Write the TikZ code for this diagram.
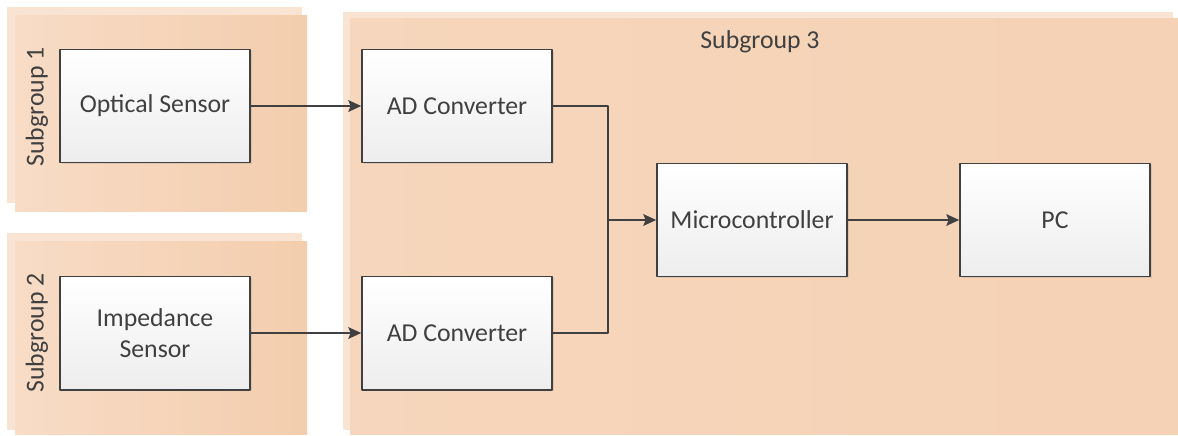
\documentclass[tikz,border=0pt]{standalone}
\usepackage{fontspec}
\setmainfont{Carlito}
\usetikzlibrary{arrows.meta,shadows}
\definecolor{panelback}{HTML}{F9E3D2}
\definecolor{panelleft}{HTML}{F8DCC6}
\definecolor{panelright}{HTML}{F3CDAD}
\definecolor{linegray}{HTML}{404040}

\tikzset{
  block/.style={draw=linegray, line width=1.4pt, top color=white, bottom color=black!7,
    minimum width=5.7cm, minimum height=3.4cm, text=linegray, align=center,
    font=\fontsize{22}{27}\selectfont,
    drop shadow={shadow xshift=1.5pt, shadow yshift=-1.5pt, opacity=0.2}},
  grouplabel/.style={text=linegray, font=\fontsize{22}{27}\selectfont},
  wire/.style={draw=linegray, line width=1.4pt},
  link/.style={wire, -{Stealth[length=11pt,width=10pt,inset=2pt]}},
}

\begin{document}
\begin{tikzpicture}[line cap=round,line join=round,x=0.03cm,y=-0.03cm]
	\useasboundingbox (0,0) rectangle (1178,435);
	% subgroup panels
	\fill[panelback] (7,7) rectangle (302,203);
	\fill[left color=panelleft, right color=panelright] (15,15) rectangle (307,211);
	\fill[panelback] (7,233) rectangle (302,430);
	\fill[left color=panelleft, right color=panelright] (15,241) rectangle (307,434);
	\fill[panelback] (343,12) rectangle (1173,430);
	\fill[left color=panelleft!60!panelright, right color=panelright!70!panelleft] (350,18) rectangle (1178,434);
	\node[grouplabel, rotate=90] (sub1) at (37,107) {Subgroup 1};
	\node[grouplabel, rotate=90] (sub2) at (37,333) {Subgroup 2};
	\node[grouplabel] (sub3) at (760,42) {Subgroup 3};
	% blocks
	\node[block] (optical) at (155,106) {Optical Sensor};
	\node[block] (impedance) at (155,333) {Impedance\\Sensor};
	\node[block] (adc1) at (457,106) {AD Converter};
	\node[block] (adc2) at (457,333) {AD Converter};
	\node[block] (mcu) at (752,220) {Microcontroller};
	\node[block] (pc) at (1055,220) {PC};
	\coordinate (merge) at (608,220);
	% connectors
	\draw[link] (optical) -- (adc1);
	\draw[link] (impedance) -- (adc2);
	\draw[wire] (adc1.east) -| (merge);
	\draw[wire] (adc2.east) -| (merge);
	\draw[link] (merge) -- (mcu);
	\draw[link] (mcu) -- (pc);
\end{tikzpicture}
\end{document}
